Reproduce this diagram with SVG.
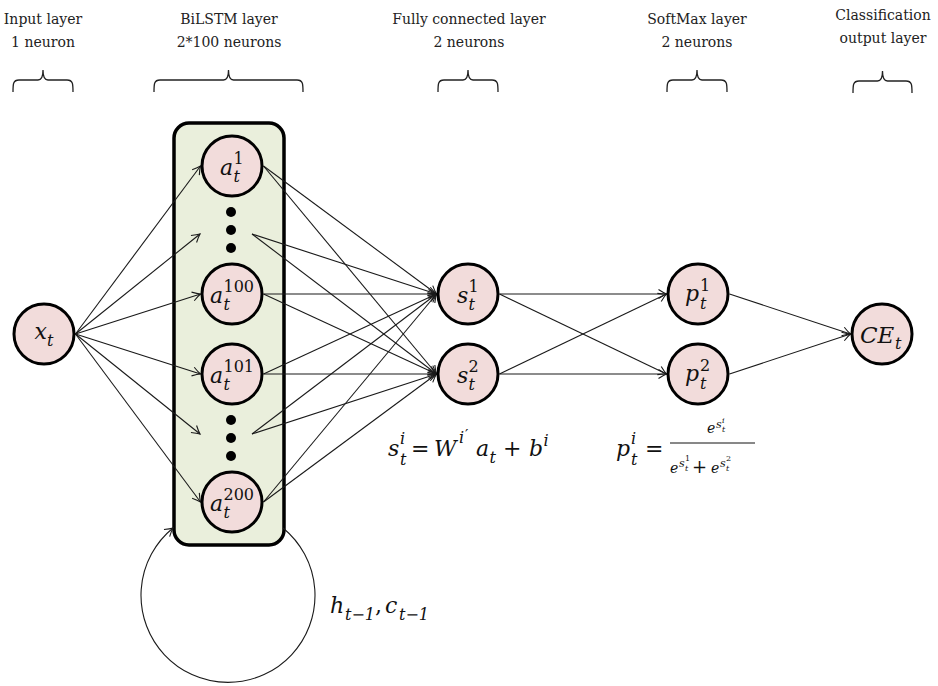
<svg xmlns="http://www.w3.org/2000/svg" width="938" height="686" viewBox="0 0 938 686">
<style>
.hd{font-family:"DejaVu Serif","Liberation Serif",serif;font-size:14px;fill:#222;text-anchor:middle}
.m{font-family:"DejaVu Serif","Liberation Serif",serif;font-style:italic;font-size:22px;fill:#111}
.ms{font-family:"DejaVu Serif","Liberation Serif",serif;font-style:italic;font-size:16px;fill:#111}
.ns{font-family:"DejaVu Serif","Liberation Serif",serif;font-size:16px;fill:#111}
.n{font-family:"DejaVu Serif","Liberation Serif",serif;font-size:22px;fill:#111}
.node{fill:#f2dcdb;stroke:#000;stroke-width:3}
.dot{fill:#000}
.br{fill:none;stroke:#222;stroke-width:1.3}
.cn line,.cn path{stroke:#1a1a1a;stroke-width:1.1;fill:none;marker-end:url(#ar)}
</style>
<defs>
<marker id="ar" markerUnits="userSpaceOnUse" markerWidth="14" markerHeight="14" viewBox="-10 -7 12 14" refX="0" refY="0" orient="auto">
<path d="M-8,-4.5 Q-3,-1.2 0,0 Q-3,1.2 -8,4.5" fill="none" stroke="#1a1a1a" stroke-width="1.1"/>
</marker>
</defs>
<rect width="938" height="686" fill="#fff"/>

<g id="headers">
<text class="hd" x="43" y="24">Input layer</text>
<text class="hd" x="43" y="47">1 neuron</text>
<text class="hd" x="229" y="24">BiLSTM layer</text>
<text class="hd" x="229" y="47">2*100 neurons</text>
<text class="hd" x="469" y="24">Fully connected layer</text>
<text class="hd" x="469" y="47">2 neurons</text>
<text class="hd" x="697" y="24">SoftMax layer</text>
<text class="hd" x="697" y="47">2 neurons</text>
<text class="hd" x="883" y="20">Classification</text>
<text class="hd" x="883" y="43">output layer</text>
</g>
<g id="braces">
<path class="br" d="M13,92 C13,84 13,80 19,80 L38,80 C42,80 43,76 43,70 C43,76 44,80 48,80 L67,80 C73,80 73,84 73,92"/>
<path class="br" d="M154,92 C154,84 154,80 160,80 L223.5,80 C227.5,80 228.5,76 228.5,70 C228.5,76 229.5,80 233.5,80 L297,80 C303,80 303,84 303,92"/>
<path class="br" d="M438,92 C438,84 438,80 444,80 L463,80 C467,80 468,76 468,70 C468,76 469,80 473,80 L492,80 C498,80 498,84 498,92"/>
<path class="br" d="M667,92 C667,84 667,80 673,80 L692,80 C696,80 697,76 697,70 C697,76 698,80 702,80 L721,80 C727,80 727,84 727,92"/>
<path class="br" d="M853,93 C853,85 853,81 859,81 L877.5,81 C881.5,81 882.5,77 882.5,71 C882.5,77 883.5,81 887.5,81 L906,81 C912,81 912,85 912,93"/>
</g>

<g id="bilstm-box">
<rect x="174" y="123" width="110" height="422" rx="15" ry="15" fill="#eaefdc" stroke="#000" stroke-width="3.5"/>
<circle class="dot" cx="231" cy="212" r="5"/>
<circle class="dot" cx="231" cy="230" r="5"/>
<circle class="dot" cx="231" cy="248" r="5"/>
<circle class="dot" cx="231" cy="420" r="5"/>
<circle class="dot" cx="231" cy="438" r="5"/>
<circle class="dot" cx="231" cy="456" r="5"/>
</g>

<g id="connectors" class="cn">
<line x1="75.5" y1="334" x2="200.5" y2="166"/>
<line x1="75.5" y1="334" x2="200" y2="234"/>
<line x1="75.5" y1="334" x2="200.5" y2="294"/>
<line x1="75.5" y1="334" x2="200.5" y2="374"/>
<line x1="75.5" y1="334" x2="200" y2="434"/>
<line x1="75.5" y1="334" x2="200.5" y2="502"/>

<line x1="263.5" y1="166" x2="436.5" y2="294"/>
<line x1="263.5" y1="166" x2="436.5" y2="374"/>
<line x1="252" y1="234" x2="436.5" y2="294"/>
<line x1="252" y1="234" x2="436.5" y2="374"/>
<line x1="263.5" y1="294" x2="436.5" y2="294"/>
<line x1="263.5" y1="294" x2="436.5" y2="374"/>
<line x1="263.5" y1="374" x2="436.5" y2="294"/>
<line x1="263.5" y1="374" x2="436.5" y2="374"/>
<line x1="252" y1="434" x2="436.5" y2="294"/>
<line x1="252" y1="434" x2="436.5" y2="374"/>
<line x1="263.5" y1="502" x2="436.5" y2="294"/>
<line x1="263.5" y1="502" x2="436.5" y2="374"/>

<line x1="499.5" y1="294" x2="666.5" y2="294"/>
<line x1="499.5" y1="294" x2="666.5" y2="374"/>
<line x1="499.5" y1="374" x2="666.5" y2="294"/>
<line x1="499.5" y1="374" x2="666.5" y2="374"/>

<line x1="729.5" y1="294" x2="850.5" y2="334"/>
<line x1="729.5" y1="374" x2="850.5" y2="334"/>

<path d="M283,528 A87,87 0 1 1 173,528"/>
</g>

<g id="x_t">
<circle class="node" cx="44" cy="334" r="30"/>
<text class="m" x="34.5" y="339">x</text><text class="ms" x="47" y="346">t</text>
</g>
<g id="a_t_1">
<circle class="node" cx="232" cy="166" r="30"/>
<text class="m" x="220" y="175">a</text><text class="ns" x="233.5" y="164">1</text><text class="ms" x="233.5" y="182">t</text>
</g>
<g id="a_t_100">
<circle class="node" cx="232" cy="294" r="30"/>
<text class="m" x="210" y="303">a</text><text class="ns" x="223.5" y="292">100</text><text class="ms" x="223.5" y="310">t</text>
</g>
<g id="a_t_101">
<circle class="node" cx="232" cy="374" r="30"/>
<text class="m" x="210" y="383">a</text><text class="ns" x="223.5" y="372">101</text><text class="ms" x="223.5" y="390">t</text>
</g>
<g id="a_t_200">
<circle class="node" cx="232" cy="502" r="30"/>
<text class="m" x="210" y="511">a</text><text class="ns" x="223.5" y="500">200</text><text class="ms" x="223.5" y="518">t</text>
</g>
<g id="s_t_1">
<circle class="node" cx="468" cy="294" r="30"/>
<text class="m" x="457" y="303">s</text><text class="ns" x="468.5" y="292">1</text><text class="ms" x="468.5" y="310">t</text>
</g>
<g id="s_t_2">
<circle class="node" cx="468" cy="374" r="30"/>
<text class="m" x="457" y="383">s</text><text class="ns" x="468.5" y="372">2</text><text class="ms" x="468.5" y="390">t</text>
</g>
<g id="p_t_1">
<circle class="node" cx="698" cy="294" r="30"/>
<text class="m" x="685" y="301">p</text><text class="ns" x="700" y="291">1</text><text class="ms" x="700" y="309">t</text>
</g>
<g id="p_t_2">
<circle class="node" cx="698" cy="374" r="30"/>
<text class="m" x="685" y="381">p</text><text class="ns" x="700" y="371">2</text><text class="ms" x="700" y="389">t</text>
</g>
<g id="CE_t">
<circle class="node" cx="882" cy="334" r="30"/>
<text class="m" x="860" y="343" style="font-size:23px">CE</text><text class="ms" x="895" y="349">t</text>
</g>

<g id="formula-s">
<text class="m" x="388" y="456">s</text>
<text class="ms" x="400" y="444">i</text>
<text class="ms" x="400" y="465">t</text>
<text class="n" x="411" y="456">=</text>
<text class="m" x="434" y="456">W</text>
<text class="ms" x="459" y="443">i</text>
<text class="ns" x="465" y="440" style="font-size:15px">′</text>
<text class="m" x="476" y="456">a</text>
<text class="ms" x="489.5" y="463">t</text>
<text class="n" x="503" y="456">+</text>
<text class="m" x="529" y="456">b</text>
<text class="ms" x="543.5" y="446">i</text>
</g>
<g id="formula-p">
<text class="m" x="616" y="456">p</text>
<text class="ms" x="631" y="444">i</text>
<text class="ms" x="631" y="465">t</text>
<text class="n" x="645" y="456">=</text>
<line x1="670" y1="443" x2="755" y2="443" stroke="#111" stroke-width="1"/>
<text class="m" x="707" y="433" style="font-size:14px">e</text>
<text class="m" x="716" y="428" style="font-size:11px">s</text>
<text class="m" x="722" y="423" style="font-size:8px">i</text>
<text class="m" x="722" y="432" style="font-size:8px">t</text>
<text class="m" x="670" y="473" style="font-size:14px">e</text>
<text class="m" x="679" y="467" style="font-size:11px">s</text>
<text class="ns" x="685" y="461" style="font-size:8px">1</text>
<text class="m" x="685" y="471" style="font-size:8px">t</text>
<text class="n" x="692" y="473" style="font-size:18px">+</text>
<text class="m" x="711" y="473" style="font-size:14px">e</text>
<text class="m" x="720" y="467" style="font-size:11px">s</text>
<text class="ns" x="726" y="461" style="font-size:8px">2</text>
<text class="m" x="726" y="471" style="font-size:8px">t</text>
</g>
<g id="loop-label">
<text class="m" x="330" y="613">h</text>
<text class="ms" x="345" y="620">t−1</text>
<text class="n" x="375" y="613">,</text>
<text class="m" x="385" y="613">c</text>
<text class="ms" x="399" y="620">t−1</text>
</g>
</svg>
